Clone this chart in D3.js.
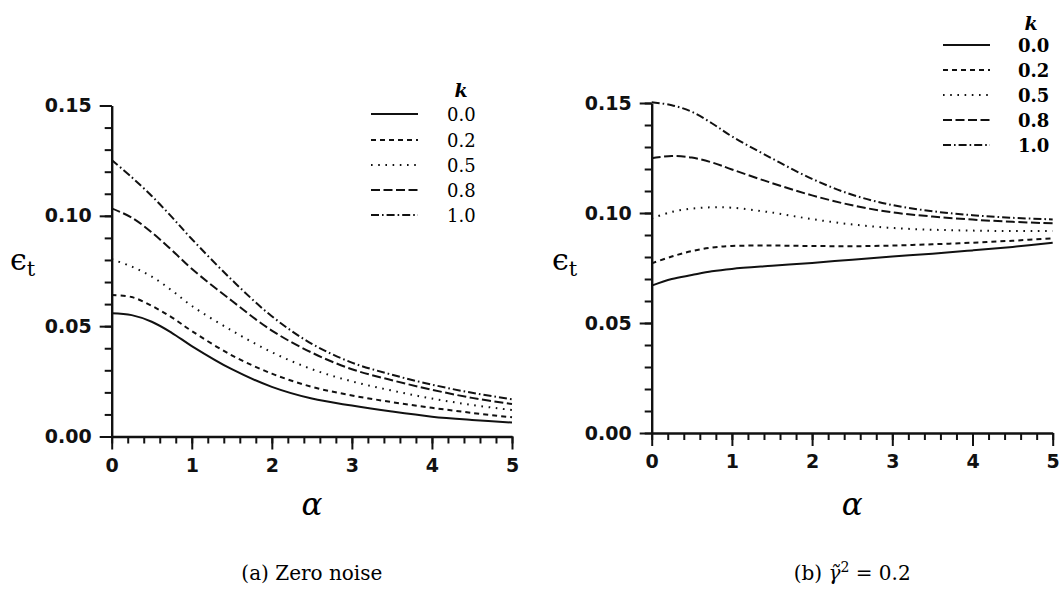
<!DOCTYPE html>
<html>
<head>
<meta charset="utf-8">
<script src="https://cdn.jsdelivr.net/npm/d3@7/dist/d3.min.js"></script>
<style>
  html, body { margin: 0; padding: 0; background: #fff; }
  svg { display: block; }
  .tick text { font-family: "DejaVu Sans", sans-serif; font-weight: bold; font-size: 19px; fill: #111; }
  .domain { stroke: #111; stroke-width: 2.4px; }
  .tick line { stroke: #111; stroke-width: 2px; }
  .curve { fill: none; stroke: #111; stroke-width: 2px; }
</style>
</head>
<body>
<svg id="chart" width="1062" height="593"></svg>
<script>
// Learning-curve values: generalisation error vs. alpha for several k
const alpha = [0, 0.25, 0.5, 0.75, 1, 1.5, 2, 2.5, 3, 3.5, 4, 4.5, 5];
const kLabels = ["0.0", "0.2", "0.5", "0.8", "1.0"];
const xTicks = [0, 1, 2, 3, 4, 5];
const yTicks = [0, 0.05, 0.10, 0.15];

// Panel (a): zero noise
const zeroK00 = [0.0558, 0.0550, 0.0520, 0.0470, 0.0410, 0.0305, 0.0225, 0.0172, 0.0140, 0.0113, 0.0090, 0.0075, 0.0063];
const zeroK02 = [0.0641, 0.0632, 0.0592, 0.0540, 0.0478, 0.0368, 0.0285, 0.0225, 0.0186, 0.0156, 0.0130, 0.0107, 0.0087];
const zeroK05 = [0.0803, 0.0770, 0.0725, 0.0662, 0.0592, 0.0480, 0.0382, 0.0305, 0.0250, 0.0208, 0.0172, 0.0143, 0.0120];
const zeroK08 = [0.1034, 0.0992, 0.0925, 0.0845, 0.0760, 0.0615, 0.0480, 0.0380, 0.0305, 0.0255, 0.0212, 0.0175, 0.0147];
const zeroK10 = [0.1253, 0.1175, 0.1090, 0.0995, 0.0895, 0.0710, 0.0545, 0.0420, 0.0335, 0.0280, 0.0235, 0.0198, 0.0169];

// Panel (b): noise level 0.2
const noisyK00 = [0.0670, 0.0700, 0.0718, 0.0735, 0.0746, 0.0760, 0.0773, 0.0788, 0.0802, 0.0815, 0.0830, 0.0846, 0.0865];
const noisyK02 = [0.0771, 0.0802, 0.0827, 0.0843, 0.0850, 0.0852, 0.0850, 0.0849, 0.0852, 0.0858, 0.0865, 0.0874, 0.0885];
const noisyK05 = [0.0976, 0.1005, 0.1020, 0.1026, 0.1024, 0.1002, 0.0972, 0.0948, 0.0932, 0.0924, 0.0920, 0.0918, 0.0918];
const noisyK08 = [0.1249, 0.1259, 0.1252, 0.1230, 0.1198, 0.1136, 0.1080, 0.1035, 0.1003, 0.0984, 0.0970, 0.0960, 0.0953];
const noisyK10 = [0.1503, 0.1490, 0.1460, 0.1408, 0.1348, 0.1248, 0.1155, 0.1083, 0.1036, 0.1008, 0.0990, 0.0978, 0.0971];

// Line patterns for k = 0.0, 0.2, 0.5, 0.8, 1.0
const dashes = [null, "5,4", "1.6,5.6", "9,3.5", "8,3,1.6,3"];

const svg = d3.select("#chart");

const panels = [
  {
    series: [zeroK00, zeroK02, zeroK05, zeroK08, zeroK10],
    x0: 111.7, x1: 512, yTop: 105.5, yBot: 436.5,
    legend: { kx: 461, ky: 97, lx0: 371, lx1: 418, tx: 447, rows: [114, 140, 165, 190, 215], bold: false },
    yLabel: { x: 10, y: 270 },
    alphaY: 515,
    caption: "a"
  },
  {
    series: [noisyK00, noisyK02, noisyK05, noisyK08, noisyK10],
    x0: 651.7, x1: 1052.7, yTop: 103, yBot: 433,
    legend: { kx: 1031, ky: 30, lx0: 943, lx1: 990, tx: 1018, rows: [45, 70, 95, 120, 145], bold: true },
    yLabel: { x: 552, y: 270 },
    alphaY: 515,
    caption: "b"
  }
];

panels.forEach(p => {
  const x = d3.scaleLinear().domain([0, 5]).range([p.x0, p.x1]);
  const y = d3.scaleLinear().domain([0, 0.15]).range([p.yBot, p.yTop]);
  const g = svg.append("g");

  // minor ticks
  g.append("g").attr("transform", `translate(0,${p.yBot})`)
    .call(d3.axisBottom(x).tickValues(d3.range(0, 5.001, 0.2)).tickSize(7).tickFormat(""))
    .call(s => s.select(".domain").remove());
  g.append("g").attr("transform", `translate(${p.x0},0)`)
    .call(d3.axisLeft(y).tickValues(d3.range(0, 0.1501, 0.01)).tickSize(7).tickFormat(""))
    .call(s => s.select(".domain").remove());

  // major ticks with labels
  g.append("g").attr("transform", `translate(0,${p.yBot})`)
    .call(d3.axisBottom(x).tickValues(xTicks).tickSize(13).tickSizeOuter(0).tickPadding(9).tickFormat(d3.format("d")));
  g.append("g").attr("transform", `translate(${p.x0},0)`)
    .call(d3.axisLeft(y).tickValues(yTicks).tickSize(12).tickSizeOuter(0).tickPadding(8).tickFormat(d3.format(".2f")));

  // curves
  const line = d3.line()
    .x((d, i) => x(alpha[i]))
    .y(d => y(d))
    .curve(d3.curveCatmullRom.alpha(0.5));
  p.series.forEach((s, i) => {
    g.append("path").datum(s).attr("class", "curve").attr("d", line)
      .attr("stroke-dasharray", dashes[i]);
  });

  // legend
  const L = p.legend;
  g.append("text").attr("x", L.kx).attr("y", L.ky).attr("text-anchor", "middle")
    .style("font-family", "DejaVu Serif, serif").style("font-style", "italic").style("font-weight", "bold")
    .style("font-size", "19px").text("k");
  kLabels.forEach((lab, i) => {
    g.append("line").attr("x1", L.lx0).attr("x2", L.lx1).attr("y1", L.rows[i]).attr("y2", L.rows[i])
      .attr("stroke", "#111").attr("stroke-width", 2).attr("stroke-dasharray", dashes[i]);
    g.append("text").attr("x", L.tx).attr("y", L.rows[i] + 6.5)
      .style("font-family", "DejaVu Serif, serif").style("font-size", "18px")
      .style("font-weight", L.bold ? "bold" : "normal").text(lab);
  });

  // axis titles
  const yl = g.append("text").attr("x", p.yLabel.x).attr("y", p.yLabel.y)
    .style("font-family", "DejaVu Serif, serif").style("font-size", "30px");
  yl.append("tspan").text("ϵ");
  yl.append("tspan").attr("dy", 6).style("font-size", "21px").text("t");

  g.append("text").attr("x", (p.x0 + p.x1) / 2).attr("y", p.alphaY).attr("text-anchor", "middle")
    .style("font-family", "DejaVu Serif, serif").style("font-style", "italic").style("font-size", "31px")
    .text("α");

  // caption
  const cap = g.append("text").attr("x", (p.x0 + p.x1) / 2).attr("y", 580).attr("text-anchor", "middle")
    .style("font-family", "DejaVu Serif, serif").style("font-size", "20px");
  if (p.caption === "a") {
    cap.text("(a) Zero noise");
  } else {
    cap.append("tspan").text("(b) ");
    cap.append("tspan").style("font-style", "italic").text("γ\u0303");
    cap.append("tspan").attr("dy", -8).style("font-size", "14px").text("2");
    cap.append("tspan").attr("dy", 8).text(" = 0.2");
  }
});
</script>
</body>
</html>
